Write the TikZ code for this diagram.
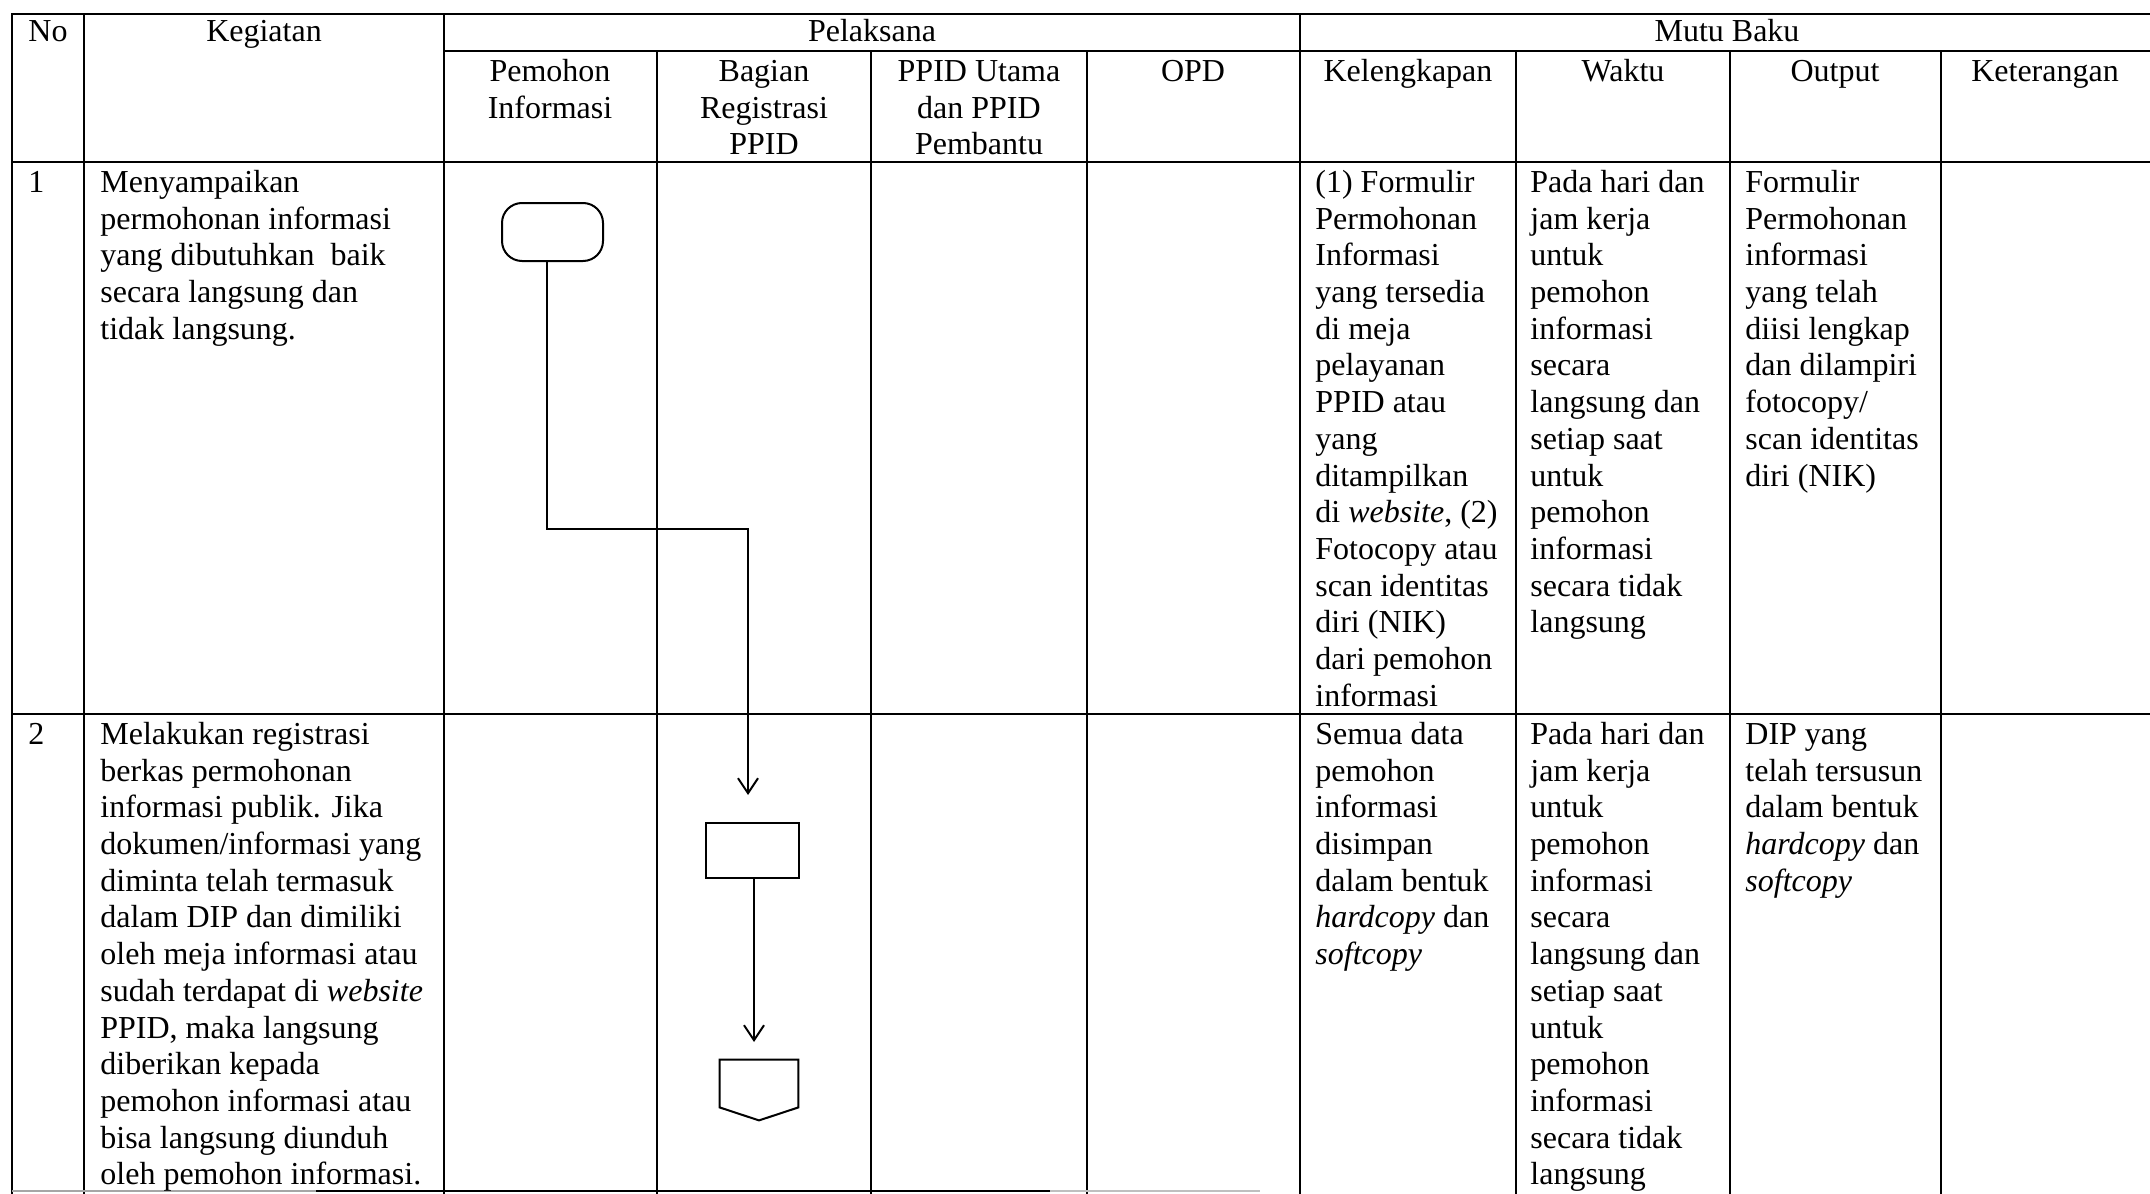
\documentclass[tikz,border=0pt]{standalone}
\usepackage{fontspec}
\setmainfont{Liberation Serif}
\usetikzlibrary{arrows.meta}
\newcommand\fstrut{\rule{0pt}{12pt}}
\tikzset{
  gridline/.style={line width=1.2pt, line cap=rect},
  txt/.style={anchor=north west, inner sep=0pt, align=left, font=\fontsize{16pt}{18.35pt}\selectfont},
  hd/.style={anchor=north, inner sep=0pt, align=center, font=\fontsize{16pt}{18.35pt}\selectfont},
  fshape/.style={draw, line width=1pt, inner sep=0pt},
  conn/.style={line width=1pt, -{Straight Barb[length=7.5pt,width=10pt,line width=1pt]}},
}
\begin{document}
\begin{tikzpicture}[x=0.5pt,y=-0.5pt]
\useasboundingbox (0,0) rectangle (2150,1193);
\fill[white] (0,0) rectangle (2150,1193);

% table grid
\draw[gridline] (12,14) -- (2150,14);
\draw[gridline] (444,51) -- (2150,51);
\draw[gridline] (12,162) -- (2150,162);
\draw[gridline] (12,714) -- (2150,714);
\foreach \x in {12,84,444,1300} \draw[gridline] (\x,14) -- (\x,1193);
\foreach \x in {657,871,1087,1516,1730,1941} \draw[gridline] (\x,51) -- (\x,1193);
\draw[line width=1pt, black!35] (12,1191) -- (316,1191);
\draw[line width=1pt] (316,1191) -- (1050,1191);
\draw[line width=1pt, black!25] (1050,1191) -- (1260,1191);

% header texts
\node[hd] (hNo) at (48,17) {\fstrut No};
\node[hd] (hKeg) at (264,17) {\fstrut Kegiatan};
\node[hd] (hPel) at (872,17) {\fstrut Pelaksana};
\node[hd] (hMutu) at (1727,17) {\fstrut Mutu Baku};
\node[hd] (hPem) at (550,57) {\fstrut Pemohon\\Informasi};
\node[hd] (hBag) at (764,57) {\fstrut Bagian\\Registrasi\\PPID};
\node[hd] (hPPID) at (979,57) {\fstrut PPID Utama\\dan PPID\\Pembantu};
\node[hd] (hOPD) at (1193,57) {\fstrut OPD};
\node[hd] (hKel) at (1408,57) {\fstrut Kelengkapan};
\node[hd] (hWak) at (1623,57) {\fstrut Waktu};
\node[hd] (hOut) at (1835,57) {\fstrut Output};
\node[hd] (hKet) at (2045,57) {\fstrut Keterangan};

% row 1
\node[txt] (n1) at (28,168) {\fstrut 1};
\node[txt] (k1) at (100,168) {\fstrut Menyampaikan\\permohonan informasi\\yang dibutuhkan\ \ baik\\secara langsung dan\\tidak langsung.};
\node[txt] (kel1) at (1315,168) {\fstrut (1) Formulir\\Permohonan\\Informasi\\yang tersedia\\di meja\\pelayanan\\PPID atau\\yang\\ditampilkan\\di \textit{website}, (2)\\Fotocopy atau\\scan identitas\\diri (NIK)\\dari pemohon\\informasi};
\node[txt] (w1) at (1530,168) {\fstrut Pada hari dan\\jam kerja\\untuk\\pemohon\\informasi\\secara\\langsung dan\\setiap saat\\untuk\\pemohon\\informasi\\secara tidak\\langsung};
\node[txt] (o1) at (1745,168) {\fstrut Formulir\\Permohonan\\informasi\\yang telah\\diisi lengkap\\dan dilampiri\\fotocopy/\\scan identitas\\diri (NIK)};

% row 2
\node[txt] (n2) at (28,720) {\fstrut 2};
\node[txt] (k2) at (100,720) {\fstrut Melakukan registrasi\\berkas permohonan\\informasi publik. Jika\\dokumen/informasi yang\\diminta telah termasuk\\dalam DIP dan dimiliki\\oleh meja informasi atau\\sudah terdapat di \textit{website}\\PPID, maka langsung\\diberikan kepada\\pemohon informasi atau\\bisa langsung diunduh\\oleh pemohon informasi.};
\node[txt] (kel2) at (1315,720) {\fstrut Semua data\\pemohon\\informasi\\disimpan\\dalam bentuk\\\textit{hardcopy} dan\\\textit{softcopy}};
\node[txt] (w2) at (1530,720) {\fstrut Pada hari dan\\jam kerja\\untuk\\pemohon\\informasi\\secara\\langsung dan\\setiap saat\\untuk\\pemohon\\informasi\\secara tidak\\langsung};
\node[txt] (o2) at (1745,720) {\fstrut DIP yang\\telah tersusun\\dalam bentuk\\\textit{hardcopy} dan\\\textit{softcopy}};

% flowchart
\node[fshape, rounded corners=10pt, minimum width=50.5pt, minimum height=29pt] (term) at (552.5,232) {};
\node[fshape, minimum width=46.5pt, minimum height=27.5pt] (proc) at (752.5,850.5) {};
\node[inner sep=0pt, minimum width=39pt, minimum height=30pt] (off) at (759,1090) {};
\draw[line width=1pt, line join=miter] (off.north west) -- (off.north east) -- ([yshift=6.5pt]off.south east) -- (off.south) -- ([yshift=6.5pt]off.south west) -- cycle;

\coordinate (bend) at (748,529);
\coordinate (tip1) at (748,795);
\coordinate (tip2) at (754,1042);
\draw[conn] ([xshift=-3pt]term.south) |- (bend) -- (tip1);
\draw[conn] ([xshift=0.75pt]proc.south) -- (tip2);
\end{tikzpicture}
\end{document}
